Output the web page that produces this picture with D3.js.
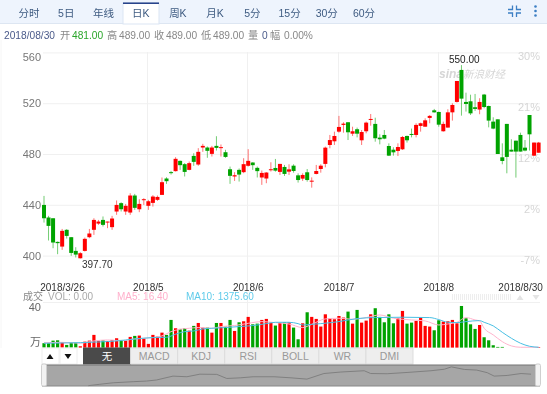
<!DOCTYPE html>
<html>
<head>
<meta charset="utf-8">
<script src="https://cdnjs.cloudflare.com/ajax/libs/d3/7.8.5/d3.min.js"></script>
<style>
  html, body { margin: 0; padding: 0; background: #fff; }
  svg { display: block; font-family: "Liberation Sans", "Noto Sans CJK SC", sans-serif; filter: blur(0.3px); }
</style>
</head>
<body>
<svg id="chart" width="547" height="394"></svg>
<script>
// values, one per trading day
const opens = [439.9,430.0,429.4,410.8,407.1,420.3,414.5,403.7,397.9,403.7,
  414.5,420.3,425.2,428.1,426.3,422.4,434.7,441.3,434.7,433.9,
  447.3,436.5,444.1,439.2,441.5,443.9,447.8,460.7,465.7,466.5,
  474.6,472.0,467.5,478.5,471.7,485.1,485.1,480.1,486.4,485.1,
  481.4,468.0,462.3,467.5,465.7,470.7,473.3,469.1,461.5,460.7,
  467.5,469.0,465.9,469.8,466.1,470.8,463.2,460.6,465.6,458.5,
  464.3,468.2,472.2,487.1,490.0,497.6,502.9,505.0,496.0,499.5,
  490.8,497.9,507.1,503.7,492.9,495.0,486.3,483.4,482.4,483.7,
  494.2,495.8,495.0,502.1,501.5,508.4,514.4,513.1,497.9,500.8,
  512.8,521.0,546.2,521.0,521.5,516.8,515.0,526.8,517.8,505.5,
  507.3,477.4,503.7,483.4,490.5,495.0,485.0,510.7,478.7,481.0];
const closes = [429.4,423.4,410.3,409.8,419.5,415.5,402.1,400.8,401.9,413.2,
  417.4,428.1,426.8,424.2,426.8,429.2,439.9,436.5,439.2,447.3,
  437.6,440.7,444.4,442.8,446.5,446.2,457.8,458.6,465.1,476.2,
  471.2,465.9,472.8,473.8,481.7,486.4,482.5,485.1,484.8,485.4,
  477.7,462.8,463.3,463.8,472.0,474.6,471.2,466.5,465.1,465.4,
  468.0,466.9,472.2,464.3,467.9,466.6,459.5,463.5,459.5,459.0,
  466.6,470.8,485.0,491.0,494.2,501.3,503.9,497.1,497.9,496.0,
  497.3,504.7,507.6,492.4,491.6,492.1,478.7,481.3,485.5,493.4,
  490.8,495.3,502.9,504.2,506.5,510.0,512.8,503.1,503.7,512.8,
  518.6,537.5,523.6,519.4,512.0,515.5,521.0,517.0,506.3,500.0,
  480.0,474.5,477.7,481.9,481.9,481.9,482.7,495.5,489.0,489.0];
const highs = [447.0,431.3,429.4,411.1,421.0,420.8,414.5,406.6,402.7,414.2,
  421.0,429.4,428.1,430.8,426.8,431.3,443.4,442.0,440.7,449.1,
  448.6,444.4,445.2,443.9,447.6,447.3,461.5,461.7,466.7,477.5,
  474.9,472.8,474.1,480.6,484.6,488.0,485.9,486.4,494.0,487.5,
  483.3,470.1,465.7,468.6,476.7,483.8,473.5,470.1,467.0,465.7,
  473.5,476.1,472.2,471.4,471.9,471.9,464.8,464.8,468.2,461.6,
  471.4,471.9,485.8,495.0,497.6,510.0,505.0,505.0,501.5,500.8,
  498.9,505.5,511.5,508.6,495.5,498.9,488.4,485.3,488.4,494.2,
  494.5,500.0,504.2,504.7,508.1,510.7,515.5,513.4,505.5,515.2,
  519.9,537.5,550.0,528.3,526.7,527.3,523.9,527.3,518.1,508.9,
  507.3,488.4,503.7,491.6,490.5,496.8,491.0,510.7,489.0,489.5];
const lows = [426.0,411.9,405.8,401.1,404.5,413.4,399.8,398.5,397.7,403.2,
  413.7,416.3,424.2,422.9,421.6,420.3,432.1,434.7,432.1,432.1,
  436.0,434.2,439.9,436.0,438.6,443.1,447.8,456.5,463.8,466.2,
  467.5,462.3,467.2,470.7,470.7,481.7,477.0,478.0,482.7,478.0,
  477.0,456.5,458.8,458.3,464.9,470.1,467.5,461.5,455.7,457.0,
  466.2,466.1,463.5,462.7,463.5,465.3,457.5,458.8,458.2,453.5,
  464.0,465.3,469.5,484.5,487.1,496.8,496.8,491.0,494.2,493.1,
  487.1,496.3,502.3,489.7,487.6,491.6,478.4,478.7,478.4,483.2,
  489.0,493.1,493.1,497.6,501.5,504.2,512.6,501.5,497.6,500.8,
  506.3,520.5,510.2,513.4,510.7,513.9,511.3,516.0,501.0,499.5,
  480.0,471.9,464.8,481.9,461.4,481.9,482.1,482.7,478.4,481.0];
const volumes = [3.9,3.9,6.2,6.5,4.7,2.4,4.4,4.4,1.2,5.3,
  6.2,11.3,6.2,6.5,5.9,6.8,8.3,6.8,6.2,9.5,
  10.4,10.7,8.3,3.3,11.3,9.8,13.3,11.3,24.6,17.2,
  16.6,17.2,15.1,19.3,21.9,17.8,17.8,13.3,21.9,21.9,
  18.7,24.6,14.8,22.5,23.4,27.3,20.7,21.3,24.6,25.5,
  22.2,19.6,21.9,22.5,22.5,17.8,7.4,21.6,31.4,27.3,
  25.5,18.7,29.6,26.1,25.2,28.1,26.7,32.0,21.3,33.5,
  22.2,24.0,29.6,35.0,27.3,22.5,29.6,21.6,26.1,32.6,
  21.3,22.2,23.7,27.0,19.3,18.7,15.4,24.3,23.1,23.4,
  24.6,21.6,37.0,26.1,20.7,16.6,20.1,9.2,6.5,2.1,
  0.6,0.6,0,0,0,0,0,0,0,0.5];

// moving average lines, read at the days listed
const ma5Days = [1,5,9,12,15,18,21,25,27,29,31,33,35,38,40,43,46,49,52,55,58,60,63,66,69,72,75,78,82,85,88,90,92,94,96,97,98,100,102,104,106,110];
const ma5Values = [4.4,4.7,3.9,5.9,6.8,6.2,7.7,8.9,10.4,14.2,16.3,17.2,17.8,17.2,18.7,19.6,21.6,23.1,22.2,21.0,17.8,20.7,25.5,26.1,25.2,26.7,29.0,26.1,24.6,23.7,20.1,21.0,22.5,26.7,24.6,23.7,17.2,11.3,5.3,1.5,0.3,0.3];
const ma10Days = [1,5,9,13,17,21,25,28,30,32,34,36,38,41,44,47,50,52,55,57,58,60,62,66,70,74,80,86,88,90,92,94,97,98,100,102,104,106,108,110];
const ma10Values = [3.9,4.1,4.4,5.0,5.9,7.7,8.9,9.2,11.9,14.2,14.8,16.6,17.2,17.8,18.7,19.6,21.3,22.5,22.5,21.3,20.1,20.7,21.3,23.1,25.8,26.7,27.0,26.7,24.9,22.5,22.2,23.1,24.0,22.5,19.3,13.6,8.3,3.9,1.2,0.3];

// navigator strip at the bottom, position in % and level in %
const overviewPos = [9.3,11.6,14.3,18.3,21.0,23.0,26.3,29.1,31.7,35.1,37.1,39.8,42.4,46.6,50.0,53.2,56.6,60.0,64.7,66.0,69.3,73.3,78.1,80.8,82.2,84.8,87.3,89.4,90.8,93.4,96.2,98.2];
const overviewLevel = [1.5,8,15,20,23,28,46,43,55,54,35,38,43,43,38,32,58,65,71,58,57,63,71,78,89,77,74,62,46,49,58,55];

const priceTicks = [400,440,480,520,560];
const percentTicks = ["-7%","2%","12%","21%","30%"];
const dateTickDays = [0,23,45,65,87,109];
const dateTickLabels = ["2018/3/26","2018/5","2018/6","2018/7","2018/8","2018/8/30"];
const periods = ["分时","5日","年线","日K","周K","月K","5分","15分","30分","60分"];
const indicators = ["无","MACD","KDJ","RSI","BOLL","WR","DMI"];

const UP = "#ff0000";
const DOWN = "#00a300";
const GRID = "#f0f0f0";

const svg = d3.select("#chart");
const days = d3.range(opens.length);

const fnX = d3.scaleLinear().domain([0, 109]).range([44, 538.6]);
const fnY = d3.scaleLinear().domain([400, 560]).range([255.6, 52.4]);
const fnVol = d3.scaleLinear().domain([0, 40]).range([347.6, 302.6]);
const fnOvX = d3.scaleLinear().domain([0, 100]).range([42, 540]);
const fnOvY = d3.scaleLinear().domain([0, 100]).range([386, 364.5]);
const colorOf = (i) => (closes[i] >= opens[i] ? UP : DOWN);

// period tabs
const fnTab = d3.scalePoint().domain(periods).range([29, 364]);
svg.append("rect").attr("width", 547).attr("height", 23).attr("fill", "#eef4fd");
svg.append("line").attr("x1", 0).attr("x2", 547).attr("y1", 23.5).attr("y2", 23.5).attr("stroke", "#dde6f2");
svg.append("rect").attr("x", 123).attr("y", 3).attr("width", 36).attr("height", 21).attr("fill", "#fff").attr("stroke", "#dbe5f3");
svg.append("rect").attr("x", 123).attr("y", 2.5).attr("width", 36).attr("height", 1.4).attr("fill", "#11307f");
svg.selectAll(".tab").data(periods).enter().append("text")
  .attr("x", (d) => fnTab(d)).attr("y", 17)
  .attr("text-anchor", "middle").attr("font-size", 10.5).attr("fill", "#3d5a80")
  .text((d) => d);

// the two icons on the right of the tabs
svg.append("path")
  .attr("d", "M508 9.5h4.5v-4M521 9.5h-4.5v-4M508 13h4.5v4M521 13h-4.5v4")
  .attr("fill", "none").attr("stroke", "#3c7fc4").attr("stroke-width", 1.3);
svg.selectAll(".dot").data([6.5, 11, 15.5]).enter().append("circle")
  .attr("cx", 535.5).attr("cy", (d) => d).attr("r", 1.3).attr("fill", "#3c7fc4");

// quote line
const quote = [
  [4, "2018/08/30", "#4a5a8a"], [60, "开", "#888"], [72, "481.00", "#2aa52a"],
  [107, "高", "#888"], [119, "489.00", "#888"], [154, "收", "#888"], [166, "489.00", "#888"],
  [201, "低", "#888"], [213, "489.00", "#888"], [248, "量", "#888"], [262, "0", "#4a5a8a"],
  [270, "幅", "#888"], [284, "0.00%", "#888"]
];
svg.selectAll(".quote").data(quote).enter().append("text")
  .attr("x", (d) => d[0]).attr("y", 39).attr("font-size", 10.2).attr("fill", (d) => d[2])
  .text((d) => d[1]);

// price axis and horizontal grid
const yAxis = d3.axisLeft(fnY).tickValues(priceTicks).tickSize(-497).tickPadding(2);
const gy = svg.append("g").attr("transform", "translate(43,0)").call(yAxis);
gy.select(".domain").remove();
gy.selectAll("line").attr("stroke", GRID);
gy.selectAll("text").attr("font-size", 11).attr("font-family", "inherit").attr("fill", "#777")
  .attr("dy", (d) => (d === 560 ? "0.72em" : "0.32em"));

// percent labels on the right share the same grid rows
const rightAxis = d3.axisLeft(d3.scalePoint().domain(percentTicks).range([255.6, 52.4]))
  .tickSize(0).tickPadding(0);
const gr = svg.append("g").attr("transform", "translate(540,4)").call(rightAxis);
gr.select(".domain").remove();
gr.selectAll("text").attr("font-size", 11).attr("font-family", "inherit").attr("fill", "#d6d6d6");

// vertical grid
svg.append("g").selectAll("line").data(dateTickDays.slice(1, -1)).enter().append("line")
  .attr("x1", (d) => Math.round(fnX(d)) - 0.5).attr("x2", (d) => Math.round(fnX(d)) - 0.5)
  .attr("y1", 52).attr("y2", 348).attr("stroke", GRID);
svg.append("line").attr("x1", 1).attr("x2", 1).attr("y1", 40).attr("y2", 348).attr("stroke", "#f6f6f6");

// date axis
const xAxis = d3.axisBottom(fnX).tickValues(dateTickDays)
  .tickFormat((d, i) => dateTickLabels[i]).tickSize(0).tickPadding(0);
const gx = svg.append("g").attr("transform", "translate(0,284)").call(xAxis);
gx.select(".domain").remove();
gx.selectAll("text").attr("font-size", 10).attr("font-family", "inherit").attr("fill", "#333")
  .attr("stroke", "#fff").attr("stroke-width", 2).attr("paint-order", "stroke")
  .attr("dx", (d) => (d === 0 ? 18 : d === 109 ? -18.5 : -0.5));

// watermark
const wm = svg.append("text").attr("x", 439).attr("y", 78).attr("fill", "#d6d6d6").attr("font-size", 10.5);
wm.append("tspan").attr("font-style", "italic").attr("font-weight", "bold").attr("font-size", 12).text("sina");
wm.append("tspan").attr("font-style", "italic").text("新浪财经");

// candles
svg.append("g").selectAll("line").data(days).enter().append("line")
  .attr("x1", (i) => fnX(i)).attr("x2", (i) => fnX(i))
  .attr("y1", (i) => fnY(highs[i])).attr("y2", (i) => fnY(lows[i]))
  .attr("stroke", colorOf).attr("stroke-opacity", 0.55).attr("stroke-width", 1);
svg.append("g").selectAll("rect").data(days).enter().append("rect")
  .attr("x", (i) => fnX(i) - 2).attr("width", 4)
  .attr("y", (i) => fnY(Math.max(opens[i], closes[i])))
  .attr("height", (i) => Math.max(1, Math.abs(fnY(opens[i]) - fnY(closes[i]))))
  .attr("fill", colorOf);

// extreme labels
svg.append("text").attr("x", 449).attr("y", 63).attr("font-size", 10).attr("fill", "#222").text("550.00");
svg.append("text").attr("x", 82).attr("y", 268).attr("font-size", 10).attr("fill", "#333").text("397.70");

// volume panel
svg.append("line").attr("x1", 43).attr("x2", 540).attr("y1", 302.5).attr("y2", 302.5).attr("stroke", GRID);
const volAxis = d3.axisLeft(fnVol).tickValues([40]).tickSize(0).tickPadding(2);
const gv = svg.append("g").attr("transform", "translate(43,4)").call(volAxis);
gv.select(".domain").remove();
gv.selectAll("text").attr("font-size", 11).attr("font-family", "inherit").attr("fill", "#666");
svg.append("text").attr("x", 41).attr("y", 346).attr("text-anchor", "end")
  .attr("font-size", 11).attr("fill", "#666").text("万");

svg.append("g").selectAll("rect").data(days).enter().append("rect")
  .attr("x", (i) => fnX(i) - 1.6).attr("width", 3.2)
  .attr("y", (i) => fnVol(volumes[i]))
  .attr("height", (i) => fnVol(0) - fnVol(volumes[i]))
  .attr("fill", colorOf);

const lineOf = d3.line().x((d) => fnX(d[0] - 1)).y((d) => fnVol(d[1])).curve(d3.curveMonotoneX);
svg.append("path").attr("d", lineOf(d3.zip(ma5Days, ma5Values)))
  .attr("fill", "none").attr("stroke", "#ffb3cc").attr("stroke-width", 1);
svg.append("path").attr("d", lineOf(d3.zip(ma10Days, ma10Values)))
  .attr("fill", "none").attr("stroke", "#48bfe3").attr("stroke-width", 1);

// volume legend
const legend = [
  [23, "成交", "#888"], [48, "VOL: 0.00", "#aaa"],
  [117, "MA5: 16.40", "#ffb0cc"], [186, "MA10: 1375.60", "#5fcbea"]
];
svg.selectAll(".legend").data(legend).enter().append("text")
  .attr("x", (d) => d[0]).attr("y", 300).attr("font-size", 10).attr("fill", (d) => d[2])
  .text((d) => d[1]);

// faded pager on the right of the legend
svg.append("g").selectAll("line").data([295, 297, 299]).enter().append("line")
  .attr("x1", 452).attr("x2", 511).attr("y1", (d) => d).attr("y2", (d) => d)
  .attr("stroke", "#ddd").attr("stroke-dasharray", "1,1");
svg.append("path").attr("d", "M520 295l3.5 5h-7z M536 300l-3.5 -5h7z").attr("fill", "#e4e4e4");

// indicator tabs
svg.append("rect").attr("x", 42).attr("y", 348).attr("width", 17).attr("height", 16).attr("fill", "#fff").attr("stroke", "#eee");
svg.append("rect").attr("x", 60).attr("y", 348).attr("width", 17).attr("height", 16).attr("fill", "#fff").attr("stroke", "#eee");
svg.append("path").attr("d", "M50 354l3.5 5h-7z M68 359l-3.5 -5h7z").attr("fill", "#111");

const fnInd = d3.scaleBand().domain(indicators).range([83.5, 413]);
const ind = svg.append("g").selectAll("g").data(indicators).enter().append("g")
  .attr("transform", (d) => `translate(${fnInd(d)},348)`);
ind.append("rect").attr("width", fnInd.bandwidth()).attr("height", 16)
  .attr("fill", (d, i) => (i === 0 ? "#4a4a4a" : "#eeeeee"))
  .attr("stroke", (d, i) => (i === 0 ? "#4a4a4a" : "#dddddd"));
ind.append("text").attr("x", fnInd.bandwidth() / 2).attr("y", 12)
  .attr("text-anchor", "middle").attr("font-size", 10.5)
  .attr("fill", (d, i) => (i === 0 ? "#fff" : "#999"))
  .text((d) => d);

// navigator
svg.append("rect").attr("x", 42).attr("y", 365).attr("width", 498).attr("height", 21)
  .attr("fill", "#a6a6a6");
svg.append("line").attr("x1", 42).attr("x2", 540).attr("y1", 365).attr("y2", 365).attr("stroke", "#757575").attr("stroke-width", 1.2);
svg.append("line").attr("x1", 42).attr("x2", 540).attr("y1", 386).attr("y2", 386).attr("stroke", "#888");
const ovLine = d3.line().x((d) => fnOvX(d[0])).y((d) => fnOvY(d[1]));
svg.append("path").attr("d", ovLine(d3.zip(overviewPos, overviewLevel)))
  .attr("fill", "none").attr("stroke", "#808080").attr("stroke-width", 1);
svg.selectAll(".handle").data([41.5, 535.5]).enter().append("rect")
  .attr("x", (d) => d).attr("y", 364).attr("width", 5).attr("height", 22).attr("rx", 1.5)
  .attr("fill", "#f2f2f2").attr("stroke", "#cfcfcf");
</script>
</body>
</html>
